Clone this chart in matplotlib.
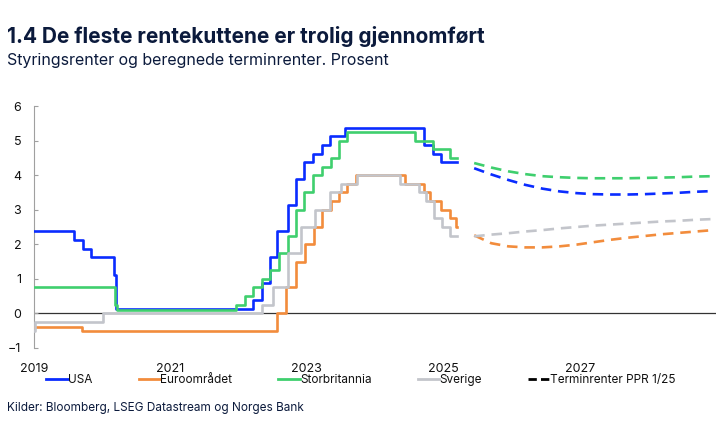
import matplotlib
matplotlib.use("Agg")
import matplotlib.pyplot as plt
import pandas as pd
from matplotlib.lines import Line2D

plt.rcParams["font.family"] = ["Inter", "DejaVu Sans"]

NAVY = "#0b1a3c"
BLUE = "#0a2cff"
ORANGE = "#f28c3c"
GREEN = "#3fcf6e"
GREY = "#c3c5cb"

# policy rates: (date of change, new level); last entry is the end of data
usa_dates = ["2019-01-01", "2019-08-01", "2019-09-19", "2019-10-31", "2020-03-04",
             "2020-03-16", "2022-03-17", "2022-05-05", "2022-06-16", "2022-07-28",
             "2022-09-22", "2022-11-03", "2022-12-15", "2023-02-02", "2023-03-23",
             "2023-05-04", "2023-07-27", "2024-09-19", "2024-11-08", "2024-12-19",
             "2025-03-15"]
usa_rates = [2.375, 2.125, 1.875, 1.625, 1.125, 0.125, 0.375, 0.875, 1.625, 2.375,
             3.125, 3.875, 4.375, 4.625, 4.875, 5.125, 5.375, 4.875, 4.625, 4.375,
             4.375]

euro_dates = ["2019-01-01", "2019-09-18", "2022-07-27", "2022-09-14", "2022-11-02",
              "2022-12-21", "2023-02-08", "2023-03-22", "2023-05-10", "2023-06-21",
              "2023-08-02", "2023-09-20", "2024-06-12", "2024-09-18", "2024-10-23",
              "2024-12-18", "2025-02-05", "2025-03-12", "2025-03-15"]
euro_rates = [-0.4, -0.5, 0.0, 0.75, 1.5, 2.0, 2.5, 3.0, 3.25, 3.5, 3.75, 4.0,
              3.75, 3.5, 3.25, 3.0, 2.75, 2.5, 2.5]

uk_dates = ["2019-01-01", "2020-03-11", "2020-03-19", "2021-12-16", "2022-02-03",
            "2022-03-17", "2022-05-05", "2022-06-16", "2022-08-04", "2022-09-22",
            "2022-11-03", "2022-12-15", "2023-02-02", "2023-03-23", "2023-05-11",
            "2023-06-22", "2023-08-03", "2024-08-01", "2024-11-07", "2025-02-06",
            "2025-03-15"]
uk_rates = [0.75, 0.25, 0.1, 0.25, 0.5, 0.75, 1.0, 1.25, 1.75, 2.25, 3.0, 3.5,
            4.0, 4.25, 4.5, 5.0, 5.25, 5.0, 4.75, 4.5, 4.5]

se_dates = ["2019-01-01", "2019-01-09", "2020-01-08", "2022-05-04", "2022-07-06",
            "2022-09-21", "2022-11-30", "2023-02-15", "2023-05-03", "2023-07-05",
            "2023-09-27", "2024-05-15", "2024-08-21", "2024-10-02", "2024-11-13",
            "2024-12-27", "2025-02-05", "2025-03-15"]
se_rates = [-0.5, -0.25, 0.0, 0.25, 0.75, 1.75, 2.5, 3.0, 3.5, 3.75, 4.0, 3.75,
            3.5, 3.25, 2.75, 2.5, 2.25, 2.25]

# forward rates PPR 1/25
fwd_dates = ["2025-06-15", "2025-09-15", "2025-12-15", "2026-03-15", "2026-06-15",
             "2026-09-15", "2026-12-15", "2027-03-15", "2027-06-15", "2027-09-15",
             "2027-12-15", "2028-03-15", "2028-06-15", "2028-09-15", "2028-12-15"]
usa_fwd = [4.20, 4.02, 3.86, 3.72, 3.61, 3.53, 3.48, 3.45, 3.44, 3.44, 3.45, 3.47,
           3.49, 3.52, 3.54]
euro_fwd = [2.26, 2.03, 1.94, 1.91, 1.91, 1.94, 1.99, 2.06, 2.13, 2.19, 2.24, 2.29,
            2.33, 2.37, 2.41]
uk_fwd = [4.35, 4.22, 4.11, 4.03, 3.97, 3.94, 3.92, 3.91, 3.91, 3.91, 3.92, 3.93,
          3.94, 3.96, 3.97]
se_fwd = [2.23, 2.28, 2.32, 2.37, 2.41, 2.46, 2.50, 2.54, 2.57, 2.60, 2.63, 2.66,
          2.68, 2.71, 2.73]

series = [
    ("USA", BLUE, usa_dates, usa_rates, usa_fwd),
    ("Euroområdet", ORANGE, euro_dates, euro_rates, euro_fwd),
    ("Storbritannia", GREEN, uk_dates, uk_rates, uk_fwd),
    ("Sverige", GREY, se_dates, se_rates, se_fwd),
]

fig = plt.figure(figsize=(7.22, 4.37), dpi=100)
ax = fig.add_axes([0.047, 0.2037, 0.945, 0.5537])

fx = pd.to_datetime(fwd_dates)
ax.axhline(0, color="#333333", lw=0.9, zorder=1)
for name, col, d, r, f in series:
    ax.plot(pd.to_datetime(d), r, drawstyle="steps-post", color=col, lw=1.9, zorder=3)
    ax.plot(fx, f, color=col, lw=1.9, dashes=(4, 2.6), zorder=3)

ax.set_xlim(pd.Timestamp("2019-01-01"), pd.Timestamp("2029-01-01"))
ax.set_ylim(-1, 6)
ax.set_yticks(range(-1, 7))
ax.set_xticks(pd.to_datetime(["2019-01-01", "2021-01-01", "2023-01-01",
                              "2025-01-01", "2027-01-01"]))
ax.set_xticklabels(["2019", "2021", "2023", "2025", "2027"])

for s in ["top", "right", "bottom"]:
    ax.spines[s].set_visible(False)
ax.spines["left"].set_color("#a0a0a0")
ax.tick_params(axis="y", direction="in", length=3, color="#a0a0a0", pad=9,
               labelsize=9, labelcolor="#111111")
ax.tick_params(axis="x", length=0, pad=11, labelsize=9, labelcolor="#111111")

handles = [Line2D([], [], color=c, lw=2.0) for _, c, *_ in series]
handles.append(Line2D([], [], color="black", lw=2.0, dashes=(3, 1.5)))
labels = [s[0] for s in series] + ["Terminrenter PPR 1/25"]
fig.legend(handles, labels, loc="center", bbox_to_anchor=(0.5, 0.13), ncol=5,
           frameon=False, fontsize=8.5, handlelength=1.8, handletextpad=0.05,
           columnspacing=3.9, labelcolor="#111111")

fig.text(0.01, 0.917, "1.4 De fleste rentekuttene er trolig gjennomført",
         fontsize=15, fontweight="bold", color=NAVY, va="center")
fig.text(0.01, 0.862, "Styringsrenter og beregnede terminrenter. Prosent",
         fontsize=11.5, color=NAVY, va="center")
fig.text(0.01, 0.066, "Kilder: Bloomberg, LSEG Datastream og Norges Bank",
         fontsize=8.5, color=NAVY, va="center")

fig.savefig("out.png", dpi=100)
